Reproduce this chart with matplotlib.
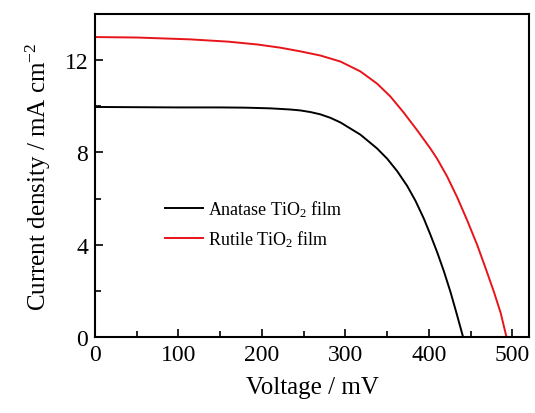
import numpy as np
import matplotlib
matplotlib.use("Agg")
import matplotlib.pyplot as plt
from matplotlib.ticker import MultipleLocator

# J-V curves (mV, mA cm^-2)
anatase_v = [0, 50, 100, 150, 180, 210, 234, 246, 258, 270, 282, 294, 318,
             338, 350, 362, 374, 384, 394, 402, 410, 418, 426, 433, 441]
anatase_j = [9.97, 9.96, 9.95, 9.95, 9.94, 9.91, 9.86, 9.82, 9.75, 9.65, 9.5,
             9.3, 8.77, 8.17, 7.73, 7.19, 6.55, 5.9, 5.13, 4.42, 3.67, 2.85,
             1.94, 1.05, 0.0]

rutile_v = [0, 50, 114, 160, 194, 222, 246, 270, 294, 318, 338, 354, 370,
            386, 402, 410, 422, 434, 446, 458, 468, 478, 486, 493]
rutile_j = [13.0, 12.98, 12.9, 12.8, 12.68, 12.54, 12.38, 12.2, 11.94, 11.51,
            10.98, 10.42, 9.72, 8.96, 8.16, 7.72, 6.95, 6.05, 5.05, 3.98, 2.98,
            1.95, 1.05, 0.0]

labels = ["Anatase TiO$_2$ film", "Rutile TiO$_2$ film"]

plt.rcParams['font.family'] = ['Liberation Serif', 'DejaVu Serif']
plt.rcParams['mathtext.fontset'] = 'custom'
plt.rcParams['mathtext.rm'] = 'Liberation Serif'
plt.rcParams['mathtext.it'] = 'Liberation Serif:italic'

fig = plt.figure(figsize=(5.35, 4.14), dpi=100)
ax = fig.add_axes([0.1776, 0.1836, 0.8112, 0.7802])

ax.plot(anatase_v, anatase_j, color="black", lw=1.4, label=labels[0])
ax.plot(rutile_v, rutile_j, color="#e8141a", lw=1.4, label=labels[1])

ax.set_xlim(0, 520)
ax.set_ylim(0, 14)
ax.xaxis.set_major_locator(MultipleLocator(100))
ax.xaxis.set_minor_locator(MultipleLocator(50))
ax.yaxis.set_major_locator(MultipleLocator(4))
ax.yaxis.set_minor_locator(MultipleLocator(2))
ax.tick_params(which="both", direction="in", top=False, right=False,
               labelsize=17, width=1.2, pad=5)
ax.tick_params(which="major", length=6)
ax.tick_params(which="minor", length=4)
for s in ax.spines.values():
    s.set_linewidth(1.5)

ax.set_xlabel("Voltage / mV", fontsize=18, labelpad=8)
ax.set_ylabel("Current density / mA cm$^{-2}$", fontsize=18, labelpad=8)

ax.legend(loc="upper left", bbox_to_anchor=(0.161, 0.43), frameon=False,
          fontsize=13, handlelength=2.1, handletextpad=0.28, labelspacing=0.55,
          borderpad=0, borderaxespad=0)

fig.savefig("out.png", dpi=100)
